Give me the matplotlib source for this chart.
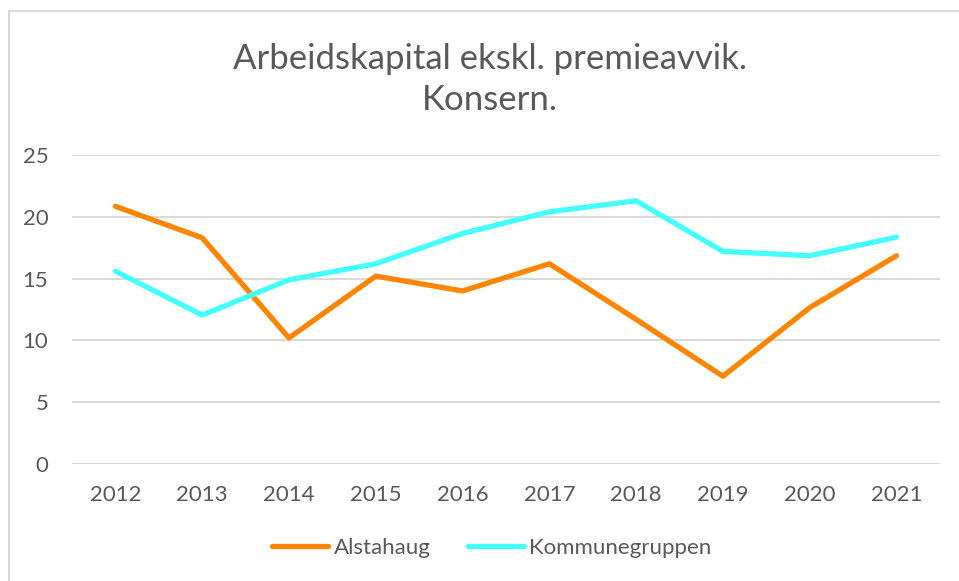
import numpy as np
import matplotlib.pyplot as plt
from matplotlib.patches import Rectangle

years = ['2012', '2013', '2014', '2015', '2016', '2017', '2018', '2019', '2020', '2021']
alstahaug = [20.85, 18.3, 10.2, 15.2, 14.0, 16.2, 11.7, 7.1, 12.65, 16.85]
kommunegruppen = [15.6, 12.05, 14.9, 16.2, 18.65, 20.4, 21.3, 17.2, 16.85, 18.35]
yticks = [0, 5, 10, 15, 20, 25]

plt.rcParams['font.family'] = ['Lato', 'DejaVu Sans']
txt = '#595959'

fig = plt.figure(figsize=(9.59, 5.81), dpi=100)
ax = fig.add_axes([0.0751, 0.2014, 0.905, 0.5318])

# outer chart border (runs off the right/bottom edge)
fig.patches.append(Rectangle((9/959, -0.05), 1.2, 1 - 11/581 + 0.05, transform=fig.transFigure,
                             fill=False, edgecolor='#d9d9d9', linewidth=1.5))

x = np.arange(len(years))
ax.plot(x, alstahaug, color='#ff8502', linewidth=3.8, solid_capstyle='round', label='Alstahaug')
ax.plot(x, kommunegruppen, color='#45ffff', linewidth=3.8, solid_capstyle='round', label='Kommunegruppen')

ax.set_xlim(-0.5, len(years) - 0.5)
ax.set_ylim(0, 25)
ax.set_yticks(yticks)
ax.set_xticks(x)
ax.set_xticklabels(years)
ax.yaxis.grid(True, color='#d9d9d9', linewidth=1.4)
ax.set_axisbelow(True)
for s in ax.spines.values():
    s.set_visible(False)
ax.tick_params(length=0, labelsize=16, labelcolor=txt)
ax.tick_params(axis='y', pad=17)
ax.tick_params(axis='x', pad=15)

fig.text(0.511, 0.863, 'Arbeidskapital ekskl. premieavvik.\nKonsern.', ha='center', va='center',
         fontsize=25, color=txt, linespacing=1.33)

fig.legend(loc='center', bbox_to_anchor=(0.513, 0.057), ncol=2, frameon=False,
           fontsize=16, labelcolor=txt, handlelength=2.5, columnspacing=1.7, handletextpad=0.25)

fig.savefig('out.png', dpi=100)
